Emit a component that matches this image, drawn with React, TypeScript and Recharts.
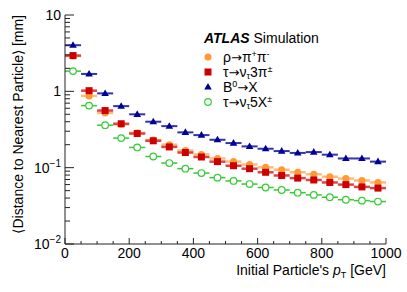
import React from 'react';
import { ScatterChart, Scatter, XAxis, YAxis, ErrorBar } from 'recharts';

// bin centres in GeV (50 GeV bins)
const ptBins = [25, 75, 125, 175, 225, 275, 325, 375, 425, 475, 525, 575, 625, 675, 725, 775, 825, 875, 925, 975];
const binHalfWidth = 25;

// <distance to nearest particle> in mm
const rhoPiPi = [2.9, 0.87, 0.52, 0.37, 0.285, 0.23, 0.2, 0.168, 0.149, 0.132, 0.12, 0.11, 0.101, 0.094, 0.087, 0.082, 0.076, 0.072, 0.068, 0.064];
const tau3Pi = [2.94, 1.02, 0.56, 0.376, 0.28, 0.225, 0.187, 0.158, 0.138, 0.12, 0.106, 0.097, 0.087, 0.079, 0.073, 0.069, 0.064, 0.06, 0.056, 0.054];
const b0X = [4.02, 1.69, 0.94, 0.64, 0.5, 0.4, 0.35, 0.29, 0.267, 0.232, 0.21, 0.19, 0.177, 0.165, 0.156, 0.16, 0.148, 0.132, 0.132, 0.12];
const tau5X = [1.84, 0.65, 0.36, 0.244, 0.184, 0.14, 0.115, 0.097, 0.085, 0.074, 0.067, 0.061, 0.055, 0.051, 0.047, 0.044, 0.041, 0.038, 0.037, 0.036];

const xTicks = [0, 50, 100, 150, 200, 250, 300, 350, 400, 450, 500, 550, 600, 650, 700, 750, 800, 850, 900, 950, 1000];
const xLabelTicks = [0, 200, 400, 600, 800, 1000];
const yMajorTicks = [0.01, 0.1, 1, 10];
const yMinorTicks = [
  0.02, 0.03, 0.04, 0.05, 0.06, 0.07, 0.08, 0.09,
  0.2, 0.3, 0.4, 0.5, 0.6, 0.7, 0.8, 0.9,
  2, 3, 4, 5, 6, 7, 8, 9,
];

const FONT = '"Liberation Sans", Arial, Helvetica, sans-serif';
const ARROW_FONT = '"DejaVu Sans", sans-serif';
const AXIS = '#222';

const COLORS = {
  rho: '#ff9933',
  rhoBar: '#ffbb77',
  tau3: '#cc0000',
  tau3Bar: '#dd4444',
  b0: '#000099',
  b0Bar: '#3333aa',
  tau5: '#33cc33',
};

const toRows = (vals: number[]) => ptBins.map((x, i) => ({ x, y: vals[i], ex: binHalfWidth }));

const rhoData = toRows(rhoPiPi);
const tau3Data = toRows(tau3Pi);
const b0Data = toRows(b0X);
const tau5Data = toRows(tau5X);

const W = 407;
const H = 292;

function isMajorX(v: number) {
  return xLabelTicks.includes(v);
}
function isMajorY(v: number) {
  return yMajorTicks.includes(v);
}

function yLabel(v: number) {
  if (v === 10) return <tspan>10</tspan>;
  if (v === 1) return <tspan>1</tspan>;
  const exp = v === 0.1 ? '\u22121' : '\u22122';
  return (
    <>
      <tspan>10</tspan>
      <tspan dy={-6} fontSize={10}>{exp}</tspan>
    </>
  );
}

function BottomTick(props: any) {
  const { x, y, payload } = props;
  const v = payload.value;
  const major = isMajorX(v);
  return (
    <g>
      <line x1={x} x2={x} y1={y} y2={y - (major ? 6 : 3)} stroke={AXIS} strokeWidth={1} />
      {major && (
        <text x={x} y={y + 14} textAnchor="middle" fontSize={14} fontFamily={FONT} fill="#000">
          {v}
        </text>
      )}
    </g>
  );
}

function TopTick(props: any) {
  const { x, y, payload } = props;
  const major = isMajorX(payload.value);
  return <line x1={x} x2={x} y1={y} y2={y + (major ? 6 : 3)} stroke={AXIS} strokeWidth={1} />;
}

function LeftTick(props: any) {
  const { x, y, payload } = props;
  const v = payload.value;
  const major = isMajorY(v);
  return (
    <g>
      <line x1={x} x2={x + (major ? 9 : 5)} y1={y} y2={y} stroke={AXIS} strokeWidth={1} />
      {major && (
        <text x={x - 4} y={y + 5} textAnchor="end" fontSize={14} fontFamily={FONT} fill="#000">
          {yLabel(v)}
        </text>
      )}
    </g>
  );
}

function RightTick(props: any) {
  const { x, y, payload } = props;
  const major = isMajorY(payload.value);
  return <line x1={x} x2={x - (major ? 9 : 5)} y1={y} y2={y} stroke={AXIS} strokeWidth={1} />;
}

const FilledCircle = (color: string) => (p: any) => <circle cx={p.cx} cy={p.cy} r={3.5} fill={color} />;
const Square = (color: string) => (p: any) => (
  <rect x={p.cx - 3.5} y={p.cy - 3.5} width={7} height={7} fill={color} />
);
const Triangle = (color: string) => (p: any) => (
  <polygon
    points={`${p.cx},${p.cy - 4} ${p.cx - 3.8},${p.cy + 2.6} ${p.cx + 3.8},${p.cy + 2.6}`}
    fill={color}
  />
);
const OpenCircle = (color: string) => (p: any) => (
  <circle cx={p.cx} cy={p.cy} r={3.3} fill="#fff" stroke={color} strokeWidth={1.2} />
);

const Arrow = () => <tspan fontFamily={ARROW_FONT} fontSize={13}>→</tspan>;

function Legend() {
  const rows = [
    {
      marker: <circle cx={208} cy={57} r={3.5} fill={COLORS.rho} />,
      text: (
        <>
          <tspan>ρ</tspan>
          <Arrow />
          <tspan>π</tspan>
          <tspan dy={-5} fontSize={9}>+</tspan>
          <tspan dy={5}>π</tspan>
          <tspan dy={-5} fontSize={9}>-</tspan>
        </>
      ),
      y: 57,
    },
    {
      marker: <rect x={204.5} y={68.5} width={7} height={7} fill={COLORS.tau3} />,
      text: (
        <>
          <tspan>τ</tspan>
          <Arrow />
          <tspan>ν</tspan>
          <tspan dy={2} fontSize={9}>τ</tspan>
          <tspan dy={-2}>3π</tspan>
          <tspan dy={-5} fontSize={9}>±</tspan>
        </>
      ),
      y: 72,
    },
    {
      marker: (
        <polygon points={`208,83 204.2,89.6 211.8,89.6`} fill={COLORS.b0} />
      ),
      text: (
        <>
          <tspan>B</tspan>
          <tspan dy={-5} fontSize={9}>0</tspan>
          <tspan dy={5} fontFamily={ARROW_FONT} fontSize={13}>→</tspan>
          <tspan>X</tspan>
        </>
      ),
      y: 87,
    },
    {
      marker: <circle cx={208} cy={102} r={3.3} fill="#fff" stroke={COLORS.tau5} strokeWidth={1.2} />,
      text: (
        <>
          <tspan>τ</tspan>
          <Arrow />
          <tspan>ν</tspan>
          <tspan dy={2} fontSize={9}>τ</tspan>
          <tspan dy={-2}>5X</tspan>
          <tspan dy={-5} fontSize={9}>±</tspan>
        </>
      ),
      y: 102,
    },
  ];
  return (
    <g fontFamily={FONT}>
      <text x={204} y={43} fontSize={14} fill="#000">
        <tspan fontWeight="bold" fontStyle="italic">ATLAS</tspan>
        <tspan> Simulation</tspan>
      </text>
      {rows.map((r, i) => (
        <g key={i}>
          {r.marker}
          <text x={223} y={r.y + 5} fontSize={14} fill="#000">
            {r.text}
          </text>
        </g>
      ))}
    </g>
  );
}

function Titles() {
  return (
    <g fontFamily={FONT} fontSize={14} fill="#000">
      <text x={386} y={275} textAnchor="end">
        <tspan>Initial Particle's </tspan>
        <tspan fontStyle="italic">p</tspan>
        <tspan dy={3} fontSize={9}>T</tspan>
        <tspan dy={-3}> [GeV]</tspan>
      </text>
      <text x={23} y={15} textAnchor="end" transform="rotate(-90 23 15)">
        ⟨Distance to Nearest Particle⟩ [mm]
      </text>
    </g>
  );
}

export default function App() {
  return (
    <div style={{ position: 'absolute', left: 0, top: 0, width: W, height: H, background: '#fff' }}>
      <ScatterChart width={W} height={H} margin={{ top: 15, right: 21, bottom: 0, left: 0 }}>
        <XAxis
          xAxisId="bottom"
          type="number"
          dataKey="x"
          domain={[0, 1000]}
          ticks={xTicks}
          interval={0}
          height={48}
          tickSize={0}
          tickMargin={0}
          tickLine={false}
          axisLine={{ stroke: AXIS, strokeWidth: 1 }}
          tick={<BottomTick />}
          allowDataOverflow
        />
        <XAxis
          xAxisId="top"
          orientation="top"
          type="number"
          dataKey="x"
          domain={[0, 1000]}
          ticks={xTicks}
          interval={0}
          height={0}
          tickSize={0}
          tickMargin={0}
          tickLine={false}
          axisLine={{ stroke: AXIS, strokeWidth: 1 }}
          tick={<TopTick />}
          allowDataOverflow
        />
        <YAxis
          yAxisId="left"
          type="number"
          dataKey="y"
          scale="log"
          domain={[0.01, 10]}
          ticks={[...yMajorTicks, ...yMinorTicks]}
          interval={0}
          width={65}
          tickSize={0}
          tickMargin={0}
          tickLine={false}
          axisLine={{ stroke: AXIS, strokeWidth: 1 }}
          tick={<LeftTick />}
          allowDataOverflow
        />
        <YAxis
          yAxisId="right"
          orientation="right"
          type="number"
          dataKey="y"
          scale="log"
          domain={[0.01, 10]}
          ticks={[...yMajorTicks, ...yMinorTicks]}
          interval={0}
          width={0}
          tickSize={0}
          tickMargin={0}
          tickLine={false}
          axisLine={{ stroke: AXIS, strokeWidth: 1 }}
          tick={<RightTick />}
          allowDataOverflow
        />

        <Scatter name="tau5" data={tau5Data} xAxisId="bottom" yAxisId="left" shape={OpenCircle(COLORS.tau5)} isAnimationActive={false}>
          <ErrorBar dataKey="ex" direction="x" width={0} stroke={COLORS.tau5} strokeWidth={1.5} isAnimationActive={false} />
        </Scatter>
        <Scatter name="b0" data={b0Data} xAxisId="bottom" yAxisId="left" shape={Triangle(COLORS.b0)} isAnimationActive={false}>
          <ErrorBar dataKey="ex" direction="x" width={0} stroke={COLORS.b0Bar} strokeWidth={2} isAnimationActive={false} />
        </Scatter>
        <Scatter name="rho" data={rhoData} xAxisId="bottom" yAxisId="left" shape={FilledCircle(COLORS.rho)} isAnimationActive={false}>
          <ErrorBar dataKey="ex" direction="x" width={0} stroke={COLORS.rhoBar} strokeWidth={2.5} isAnimationActive={false} />
        </Scatter>
        <Scatter name="tau3" data={tau3Data} xAxisId="bottom" yAxisId="left" shape={Square(COLORS.tau3)} isAnimationActive={false}>
          <ErrorBar dataKey="ex" direction="x" width={0} stroke={COLORS.tau3Bar} strokeWidth={2.5} isAnimationActive={false} />
        </Scatter>

        <Legend />
        <Titles />
      </ScatterChart>
    </div>
  );
}
